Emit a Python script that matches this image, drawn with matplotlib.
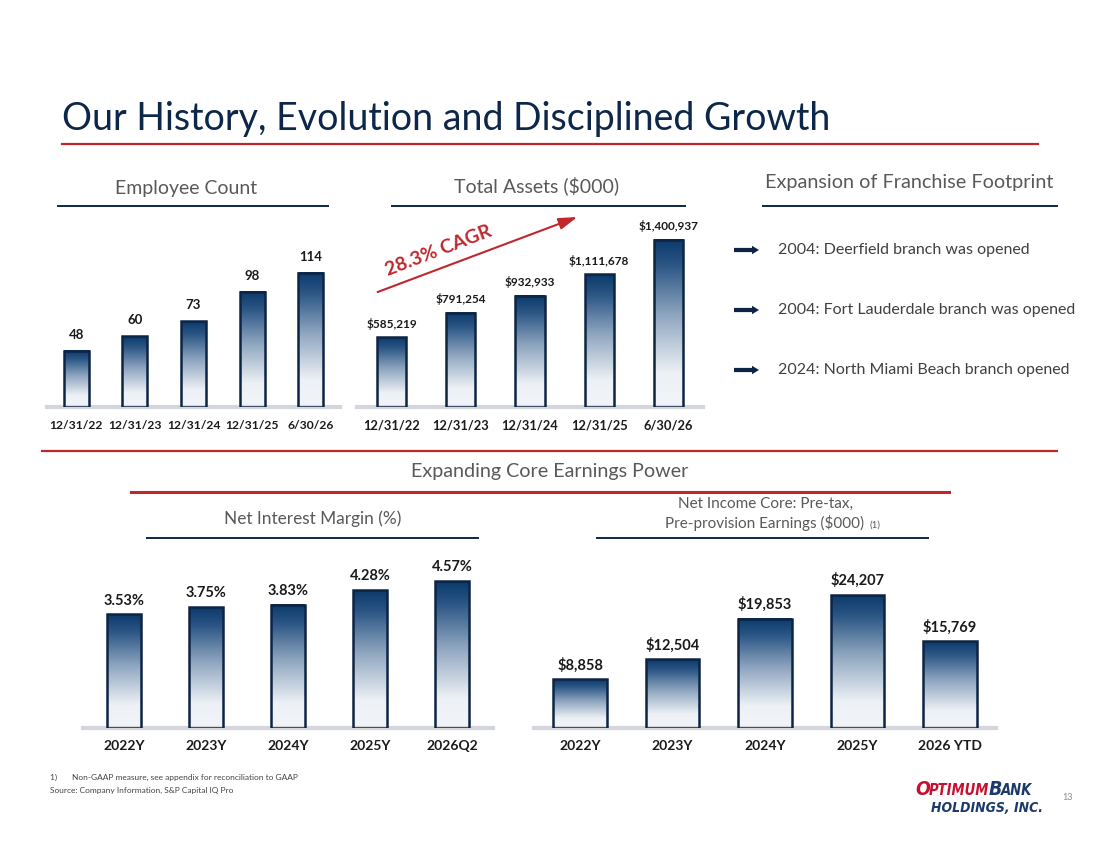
import numpy as np
import matplotlib
matplotlib.use('Agg')
import matplotlib.pyplot as plt
from matplotlib.colors import LinearSegmentedColormap

#   data
emp_dates = ['12/31/22', '12/31/23', '12/31/24', '12/31/25', '6/30/26']
emp_count = [48, 60, 73, 98, 114]

asset_dates = ['12/31/22', '12/31/23', '12/31/24', '12/31/25', '6/30/26']
total_assets = [585219, 791254, 932933, 1111678, 1400937]

nim_periods = ['2022Y', '2023Y', '2024Y', '2025Y', '2026Q2']
nim_values = [3.53, 3.75, 3.83, 4.28, 4.57]

ppne_periods = ['2022Y', '2023Y', '2024Y', '2025Y', '2026 YTD']
ppne_values = [8858, 12504, 19853, 24207, 15769]

branches = ['2004: Deerfield branch was opened',
            '2004: Fort Lauderdale branch was opened',
            '2024: North Miami Beach branch opened']

W, H = 1100, 849
FONT = 'Lato'
NAVY = '#0C2749'
RED = '#C0272D'
GREY = '#595959'
plt.rcParams['font.family'] = [FONT, 'DejaVu Sans']

fig = plt.figure(figsize=(W / 100, H / 100), dpi=100)
fig.patch.set_facecolor('white')

bar_cmap = LinearSegmentedColormap.from_list(
    'bar', [(0, '#F1F4F8'), (0.2, '#EDF1F5'), (0.55, '#8EA5BF'), (0.85, '#2A5584'), (1, '#0B3A6B')])
grad = np.linspace(0, 1, 256).reshape(-1, 1)


def px_axes(left, top, right, bottom):
    return fig.add_axes([left / W, 1 - bottom / H, (right - left) / W, (bottom - top) / H])


def bar_chart(left, right, top, base, ymax, cats, vals, labels, width, lab_size, tick_size, lab_pad):
    ax = px_axes(left, top, right, base)
    ax.set_xlim(-0.5, len(cats) - 0.5)
    ax.set_ylim(0, ymax)
    for i, v in enumerate(vals):
        ax.imshow(grad, extent=[i - width / 2, i + width / 2, 0, v], origin='lower',
                  aspect='auto', cmap=bar_cmap, zorder=2)
        ax.text(i, v + ymax * lab_pad, labels[i], ha='center', va='bottom',
                fontsize=lab_size, fontweight='bold', color='#1A1A1A')
    ax.bar(range(len(vals)), vals, width, fill=False, edgecolor='#0D2444', linewidth=1.8, zorder=3)
    ax.set_xlim(-0.5, len(cats) - 0.5)
    ax.set_ylim(0, ymax)
    ax.set_xticks(range(len(cats)))
    ax.set_xticklabels(cats, fontsize=tick_size, fontweight='bold', color='#1A1A1A')
    ax.tick_params(axis='x', length=0, pad=9)
    ax.set_yticks([])
    for s in ['top', 'left', 'right']:
        ax.spines[s].set_visible(False)
    ax.spines['bottom'].set_color('#D3D6DB')
    ax.spines['bottom'].set_linewidth(3)
    ax.patch.set_alpha(0)
    return ax


#   employee count: baseline 407, 114 -> 273px
bar_chart(47, 340, 240, 407, 114 * (407 - 240) / (407 - 273), emp_dates, emp_count,
          [str(v) for v in emp_count], 0.43, 9.5, 8.7, 0.06)

#   total assets: baseline 407, max -> 240px
bar_chart(357, 703, 215, 407, 1400937 * (407 - 215) / (407 - 240), asset_dates, total_assets,
          ['${:,}'.format(v) for v in total_assets], 0.42, 8.5, 9.3, 0.04)

#   net interest margin: baseline 728, 4.57 -> 581px
bar_chart(83, 493, 555, 728, 4.57 * (728 - 555) / (728 - 581), nim_periods, nim_values,
          ['{:.2f}%'.format(v) for v in nim_values], 0.41, 10.5, 10, 0.04)

#   pre-provision earnings: baseline 728, max -> 595px
bar_chart(534, 996, 555, 728, 24207 * (728 - 555) / (728 - 595), ppne_periods, ppne_values,
          ['${:,}'.format(v) for v in ppne_values], 0.58, 10.5, 10, 0.04)

#   overlay in pixel coordinates for lines, headers and notes
ov = fig.add_axes([0, 0, 1, 1])
ov.set_xlim(0, W)
ov.set_ylim(H, 0)
ov.axis('off')
ov.patch.set_alpha(0)

ov.text(62, 130, 'Our History, Evolution and Disciplined Growth', fontsize=27, color=NAVY,
        fontweight='normal', ha='left', va='baseline')
ov.plot([62, 1038], [144, 144], color=RED, lw=1.6)

ov.text(186, 188, 'Employee Count', fontsize=14, color=GREY, ha='center', va='center')
ov.plot([58, 328], [206, 206], color=NAVY, lw=1.4)
ov.text(537, 186, 'Total Assets ($000)', fontsize=14, color=GREY, ha='center', va='center')
ov.plot([392, 685], [206, 206], color=NAVY, lw=1.4)
ov.text(909, 182, 'Expansion of Franchise Footprint', fontsize=14.3, color=GREY, ha='center', va='center')
ov.plot([763, 1057], [206, 206], color=NAVY, lw=1.4)

#   CAGR arrow
ov.annotate('', xy=(580, 216), xytext=(375, 293),
            arrowprops=dict(arrowstyle='-|>,head_length=0.8,head_width=0.25', color=RED, lw=1.5,
                            mutation_scale=14))
ov.text(439, 251, '28.3% CAGR', fontsize=14, fontweight='bold', color=RED,
        rotation=21, ha='center', va='center', rotation_mode='anchor')

for k, txt in enumerate(branches):
    yy = 250 + 60 * k
    ov.arrow(734, yy, 25, 0, width=4.2, head_width=8.5, head_length=7,
             length_includes_head=True, color='#0D2444', lw=0)
    ov.text(778, yy, txt, fontsize=11.5, color='#404040', ha='left', va='center')

ov.plot([42, 1057], [451, 451], color=RED, lw=1.6)
ov.text(550, 471, 'Expanding Core Earnings Power', fontsize=14.2, color=GREY, ha='center', va='center')
ov.plot([131, 949], [492, 492], color=RED, lw=2.2)

ov.text(313, 519, 'Net Interest Margin (%)', fontsize=12.4, color=GREY, ha='center', va='center')
ov.plot([147, 478], [538, 538], color=NAVY, lw=1.4)
ov.text(765, 504, 'Net Income Core: Pre-tax,', fontsize=11, color=GREY, ha='center', va='center')
ov.text(765, 523, 'Pre-provision Earnings ($000)', fontsize=11, color=GREY, ha='center', va='center')
ov.text(869, 525, '(1)', fontsize=7, color=GREY, ha='left', va='center')
ov.plot([597, 928], [538, 538], color=NAVY, lw=1.4)

ov.text(50, 777, '1)       Non-GAAP measure, see appendix for reconciliation to GAAP',
        fontsize=6, color='#444444', ha='left', va='center')
ov.text(50, 790, 'Source: Company Information, S&P Capital IQ Pro',
        fontsize=6, color='#444444', ha='left', va='center')
ov.text(1062, 797, '13', fontsize=6.5, color='#8C8C8C', ha='left', va='center')

#   logo text
renderer = fig.canvas.get_renderer()
logo_font = dict(family='DejaVu Sans', fontweight='bold', fontstyle='italic', fontstretch='condensed')
xx = 915
for piece, size, col in [('O', 14, '#C8102E'), ('PTIMUM', 10.5, '#C8102E'),
                         ('B', 14, '#1B3A6B'), ('ANK', 10.5, '#1B3A6B')]:
    t = fig.text(xx / W, 1 - 795 / H, piece, fontsize=size, color=col,
                 ha='left', va='baseline', **logo_font)
    bb = t.get_window_extent(renderer)
    xx += bb.width - 1
fig.text(1043 / W, 1 - 812 / H, 'HOLDINGS, INC.', fontsize=10, color='#1B3A6B',
         ha='right', va='baseline', **logo_font)

fig.savefig('out.png', dpi=100, facecolor='white')
